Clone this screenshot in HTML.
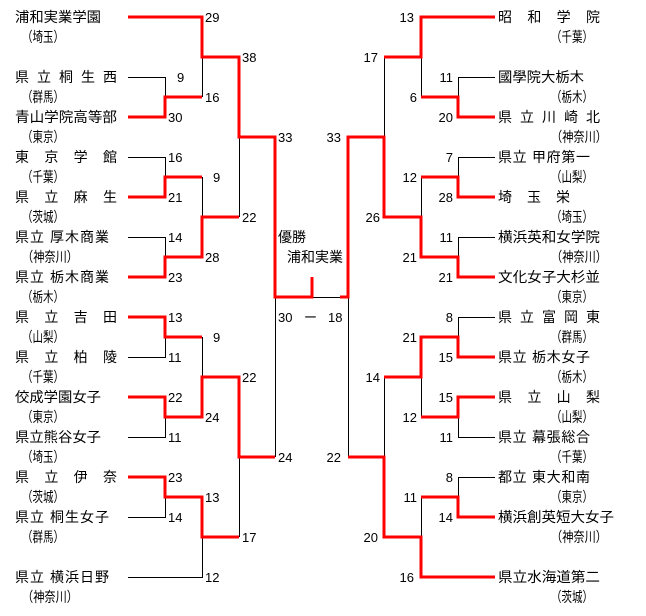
<!DOCTYPE html>
<html><head><meta charset="utf-8"><style>
html,body{margin:0;padding:0;background:#fff;}
svg{display:block;}
text{font-family:"Liberation Sans","Noto Sans CJK JP",sans-serif;fill:#000;}
.n{font-size:14px;}
.s{font-size:13px;}
.b{stroke:#000;stroke-width:1;fill:none;}
.r{stroke:#f00;stroke-width:3;fill:none;}
</style></head><body>
<svg width="646" height="616" viewBox="0 0 646 616" xmlns="http://www.w3.org/2000/svg">
<g class="b">
<path d="M128,77.5H165.5V97"/>
<path d="M202.5,57V97"/>
<path d="M128,157.5H165.5V177"/>
<path d="M239.5,137V217"/>
<path d="M202.5,177V217"/>
<path d="M128,237.5H165.5V257"/>
<path d="M275.5,297V457"/>
<path d="M165.5,337V357.5H128"/>
<path d="M202.5,337V377"/>
<path d="M165.5,417V437.5H128"/>
<path d="M239.5,457V537"/>
<path d="M165.5,497V517.5H128"/>
<path d="M202.5,537V577.5H128"/>
<path d="M312,297.5H340"/>
<path d="M495,77.5H458.5V97"/>
<path d="M421.5,57V97"/>
<path d="M384.5,57V137"/>
<path d="M495,157.5H458.5V177"/>
<path d="M421.5,177V217"/>
<path d="M495,237.5H458.5V257"/>
<path d="M348.5,297V457"/>
<path d="M495,317.5H458.5V337"/>
<path d="M421.5,377V417"/>
<path d="M458.5,417V437.5H495"/>
<path d="M384.5,377V457"/>
<path d="M495,477.5H458.5V497"/>
<path d="M421.5,497V537"/>
</g>
<g class="r">
<path d="M128,17H202V57H239V137H275V297H312V277"/>
<path d="M128,117H165V97H202"/>
<path d="M128,197H165V177H202"/>
<path d="M128,277H165V257H202V217H239"/>
<path d="M128,317H165V337H202"/>
<path d="M128,397H165V417H202V377H239V457H275"/>
<path d="M128,477H165V497H202V537H239"/>
<path d="M495,17H421V57H384"/>
<path d="M340,297H348V137H384V217H421V257H458V277H495"/>
<path d="M495,117H458V97H421"/>
<path d="M495,197H458V177H421"/>
<path d="M348,457H384V537H421V577H495"/>
<path d="M384,377H421V337H458V357H495"/>
<path d="M421,417H458V397H495"/>
<path d="M421,497H458V517H495"/>
</g>
<g class="n">
<text x="15" y="22" textLength="86" lengthAdjust="spacingAndGlyphs">浦和実業学園</text>
<text x="22" y="42" textLength="42" lengthAdjust="spacingAndGlyphs">（埼玉）</text>
<text x="15" y="82" textLength="102" lengthAdjust="spacing">県立桐生西</text>
<text x="22" y="102" textLength="42" lengthAdjust="spacingAndGlyphs">（群馬）</text>
<text x="15" y="122" textLength="102" lengthAdjust="spacingAndGlyphs">青山学院高等部</text>
<text x="22" y="142" textLength="42" lengthAdjust="spacingAndGlyphs">（東京）</text>
<text x="15" y="162" textLength="102" lengthAdjust="spacing">東京学館</text>
<text x="22" y="182" textLength="42" lengthAdjust="spacingAndGlyphs">（千葉）</text>
<text x="15" y="202" textLength="102" lengthAdjust="spacing">県立麻生</text>
<text x="22" y="222" textLength="42" lengthAdjust="spacingAndGlyphs">（茨城）</text>
<text x="15" y="242" xml:space="preserve" textLength="94" lengthAdjust="spacing">県立 厚木商業</text>
<text x="22" y="262" textLength="56" lengthAdjust="spacingAndGlyphs">（神奈川）</text>
<text x="15" y="282" xml:space="preserve" textLength="94" lengthAdjust="spacing">県立 栃木商業</text>
<text x="22" y="302" textLength="42" lengthAdjust="spacingAndGlyphs">（栃木）</text>
<text x="15" y="322" textLength="102" lengthAdjust="spacing">県立吉田</text>
<text x="22" y="342" textLength="42" lengthAdjust="spacingAndGlyphs">（山梨）</text>
<text x="15" y="362" textLength="102" lengthAdjust="spacing">県立柏陵</text>
<text x="22" y="382" textLength="42" lengthAdjust="spacingAndGlyphs">（千葉）</text>
<text x="15" y="402" textLength="86" lengthAdjust="spacingAndGlyphs">佼成学園女子</text>
<text x="22" y="422" textLength="42" lengthAdjust="spacingAndGlyphs">（東京）</text>
<text x="15" y="442" textLength="86" lengthAdjust="spacingAndGlyphs">県立熊谷女子</text>
<text x="22" y="462" textLength="42" lengthAdjust="spacingAndGlyphs">（埼玉）</text>
<text x="15" y="482" textLength="102" lengthAdjust="spacing">県立伊奈</text>
<text x="22" y="502" textLength="42" lengthAdjust="spacingAndGlyphs">（茨城）</text>
<text x="15" y="522" xml:space="preserve" textLength="94" lengthAdjust="spacing">県立 桐生女子</text>
<text x="22" y="542" textLength="42" lengthAdjust="spacingAndGlyphs">（群馬）</text>
<text x="15" y="582" xml:space="preserve" textLength="94" lengthAdjust="spacing">県立 横浜日野</text>
<text x="22" y="602" textLength="56" lengthAdjust="spacingAndGlyphs">（神奈川）</text>
</g>
<g class="n">
<text x="498" y="22" textLength="102" lengthAdjust="spacing">昭和学院</text>
<text x="551" y="42" textLength="42" lengthAdjust="spacingAndGlyphs">（千葉）</text>
<text x="498" y="82" textLength="86" lengthAdjust="spacingAndGlyphs">國學院大栃木</text>
<text x="551" y="102" textLength="42" lengthAdjust="spacingAndGlyphs">（栃木）</text>
<text x="498" y="122" textLength="102" lengthAdjust="spacing">県立川崎北</text>
<text x="551" y="142" textLength="56" lengthAdjust="spacingAndGlyphs">（神奈川）</text>
<text x="498" y="162" xml:space="preserve" textLength="92" lengthAdjust="spacing">県立 甲府第一</text>
<text x="551" y="182" textLength="42" lengthAdjust="spacingAndGlyphs">（山梨）</text>
<text x="498" y="202" textLength="72" lengthAdjust="spacing">埼玉栄</text>
<text x="551" y="222" textLength="42" lengthAdjust="spacingAndGlyphs">（埼玉）</text>
<text x="498" y="242" textLength="102" lengthAdjust="spacingAndGlyphs">横浜英和女学院</text>
<text x="551" y="262" textLength="56" lengthAdjust="spacingAndGlyphs">（神奈川）</text>
<text x="498" y="282" textLength="102" lengthAdjust="spacingAndGlyphs">文化女子大杉並</text>
<text x="551" y="302" textLength="42" lengthAdjust="spacingAndGlyphs">（東京）</text>
<text x="498" y="322" textLength="102" lengthAdjust="spacing">県立富岡東</text>
<text x="551" y="342" textLength="42" lengthAdjust="spacingAndGlyphs">（群馬）</text>
<text x="498" y="362" xml:space="preserve" textLength="92" lengthAdjust="spacing">県立 栃木女子</text>
<text x="551" y="382" textLength="42" lengthAdjust="spacingAndGlyphs">（栃木）</text>
<text x="498" y="402" textLength="102" lengthAdjust="spacing">県立山梨</text>
<text x="551" y="422" textLength="42" lengthAdjust="spacingAndGlyphs">（山梨）</text>
<text x="498" y="442" xml:space="preserve" textLength="92" lengthAdjust="spacing">県立 幕張総合</text>
<text x="551" y="462" textLength="42" lengthAdjust="spacingAndGlyphs">（千葉）</text>
<text x="498" y="482" xml:space="preserve" textLength="92" lengthAdjust="spacing">都立 東大和南</text>
<text x="551" y="502" textLength="42" lengthAdjust="spacingAndGlyphs">（東京）</text>
<text x="498" y="522" textLength="116" lengthAdjust="spacingAndGlyphs">横浜創英短大女子</text>
<text x="551" y="542" textLength="56" lengthAdjust="spacingAndGlyphs">（神奈川）</text>
<text x="498" y="582" textLength="102" lengthAdjust="spacingAndGlyphs">県立水海道第二</text>
<text x="551" y="602" textLength="42" lengthAdjust="spacingAndGlyphs">（茨城）</text>
</g>
<g class="n">
<text x="278" y="242">優勝</text>
<text x="287" y="262">浦和実業</text>
</g>
<g class="s">
<text x="278" y="322">30</text>
<text x="304" y="322">ー</text>
<text x="328" y="322">18</text>
</g>
<g class="s">
<text x="205" y="22">29</text>
<text x="242" y="62">38</text>
<text x="177" y="82">9</text>
<text x="205" y="102">16</text>
<text x="168" y="122">30</text>
<text x="278" y="142">33</text>
<text x="168" y="162">16</text>
<text x="213" y="182">9</text>
<text x="168" y="202">21</text>
<text x="242" y="222">22</text>
<text x="168" y="242">14</text>
<text x="205" y="262">28</text>
<text x="168" y="282">23</text>
<text x="168" y="322">13</text>
<text x="213" y="342">9</text>
<text x="168" y="362">11</text>
<text x="242" y="382">22</text>
<text x="168" y="402">22</text>
<text x="205" y="422">24</text>
<text x="168" y="442">11</text>
<text x="278" y="462">24</text>
<text x="168" y="482">23</text>
<text x="205" y="502">13</text>
<text x="168" y="522">14</text>
<text x="242" y="542">17</text>
<text x="205" y="582">12</text>
</g>
<g class="s" text-anchor="end">
<text x="414" y="22">13</text>
<text x="378" y="62">17</text>
<text x="453" y="82">11</text>
<text x="417" y="102">6</text>
<text x="453" y="122">20</text>
<text x="341" y="142">33</text>
<text x="453" y="162">7</text>
<text x="417" y="182">12</text>
<text x="453" y="202">28</text>
<text x="380" y="222">26</text>
<text x="453" y="242">11</text>
<text x="417" y="262">21</text>
<text x="453" y="282">21</text>
<text x="453" y="322">8</text>
<text x="417" y="342">21</text>
<text x="453" y="362">15</text>
<text x="380" y="382">14</text>
<text x="453" y="402">15</text>
<text x="417" y="422">12</text>
<text x="453" y="442">11</text>
<text x="341" y="462">22</text>
<text x="453" y="482">8</text>
<text x="417" y="502">11</text>
<text x="453" y="522">14</text>
<text x="378" y="542">20</text>
<text x="414" y="582">16</text>
</g>
</svg>
</body></html>
